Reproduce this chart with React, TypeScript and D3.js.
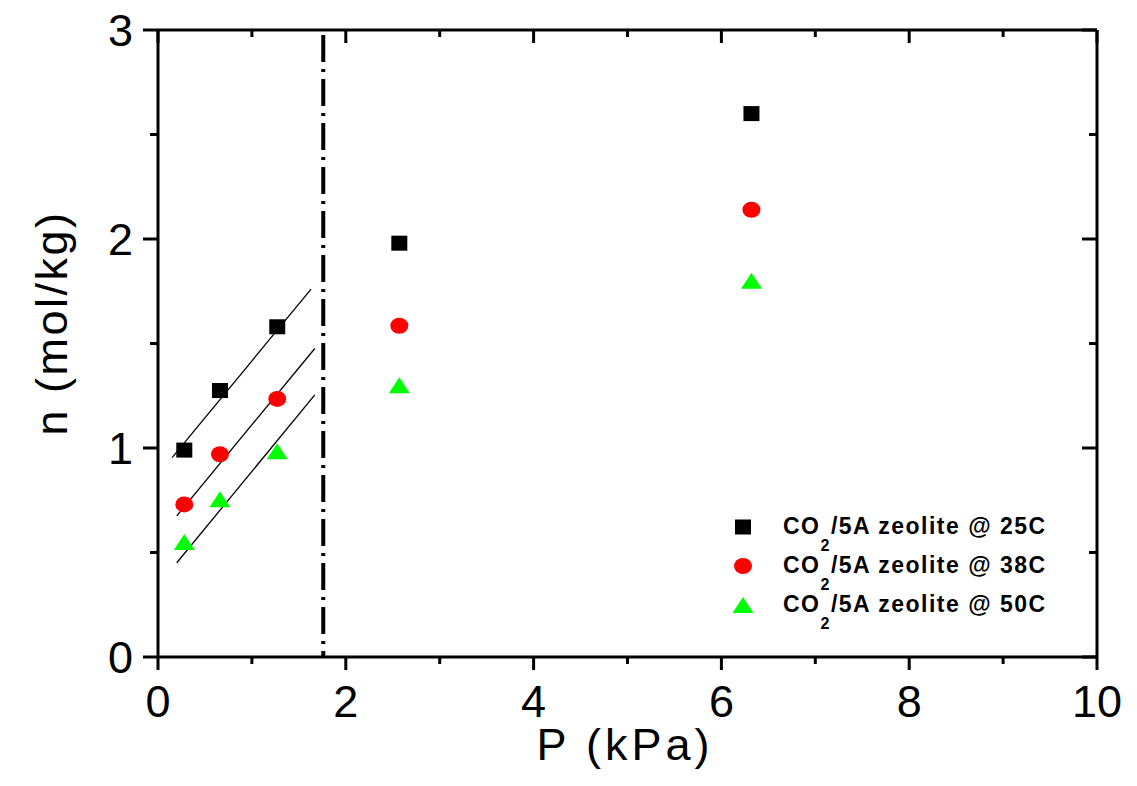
import React from "react";
import * as d3 from "d3";

const pressure = [0.28, 0.66, 1.27, 2.57, 6.32];
const n25 = [0.99, 1.275, 1.58, 1.98, 2.6];
const n38 = [0.73, 0.97, 1.235, 1.585, 2.14];
const n50 = [0.55, 0.755, 0.985, 1.3, 1.8];

const fitX25 = [0.15, 1.63];
const fitY25 = [0.954, 1.76];
const fitX38 = [0.2, 1.67];
const fitY38 = [0.675, 1.476];
const fitX50 = [0.2, 1.67];
const fitY50 = [0.451, 1.254];

const cutoffP = 1.76;

const xMajor = [0, 2, 4, 6, 8, 10];
const xMinor = [1, 3, 5, 7, 9];
const yMajor = [0, 1, 2, 3];
const yMinor = [0.5, 1.5, 2.5];

const legendLabels = ["25C", "38C", "50C"];

const W = 1137;
const H = 786;
const L = 158;
const R = 1097;
const T = 30;
const B = 657;

export default function App() {
  const x = d3.scaleLinear().domain([0, 10]).range([L, R]);
  const y = d3.scaleLinear().domain([0, 3]).range([B, T]);
  const line = d3
    .line<[number, number]>()
    .x((d) => x(d[0]))
    .y((d) => y(d[1]));

  const fits = [
    [fitX25, fitY25],
    [fitX38, fitY38],
    [fitX50, fitY50],
  ];

  const square = (cx: number, cy: number, k: string) => (
    <rect key={k} x={cx - 8} y={cy - 7.5} width={16} height={15} fill="#000" />
  );
  const circle = (cx: number, cy: number, k: string) => (
    <ellipse key={k} cx={cx} cy={cy} rx={9} ry={8} fill="#ff0000" />
  );
  const tri = (cx: number, cy: number, k: string) => (
    <path
      key={k}
      d={`M${cx - 10.5},${cy + 8} L${cx + 10.5},${cy + 8} L${cx},${cy - 8} Z`}
      fill="#00ff00"
    />
  );

  const markers = [square, circle, tri];
  const series = [n25, n38, n50];
  const legendY = [527, 566, 605];

  const sw = 3;
  return (
    <svg width={W} height={H} style={{ display: "block", position: "absolute", left: 0, top: 0 }}>
      <rect width={W} height={H} fill="#fff" />
      {fits.map(([fx, fy], i) => (
        <path
          key={"fit" + i}
          d={line(fx.map((v, j) => [v, fy[j]] as [number, number])) || ""}
          stroke="#000"
          strokeWidth={1.3}
          fill="none"
        />
      ))}
      <line
        x1={x(cutoffP)}
        x2={x(cutoffP)}
        y1={T + 5}
        y2={B}
        stroke="#000"
        strokeWidth={4}
        strokeDasharray="27,7,3,7"
      />
      {series.map((s, si) =>
        s.map((v, i) => markers[si](x(pressure[i]), y(v), `m${si}-${i}`))
      )}
      <g stroke="#000" strokeWidth={sw} fill="none">
        <line x1={L} x2={R} y1={B} y2={B} />
        <line x1={L} x2={R} y1={T} y2={T} />
        <line x1={L} x2={L} y1={T} y2={B} />
        <line x1={R} x2={R} y1={T} y2={B} />
        {xMajor.map((v) => (
          <g key={"xM" + v}>
            <line x1={x(v)} x2={x(v)} y1={B} y2={B + 13} />
            <line x1={x(v)} x2={x(v)} y1={T} y2={T + 13} />
          </g>
        ))}
        {xMinor.map((v) => (
          <g key={"xm" + v}>
            <line x1={x(v)} x2={x(v)} y1={B} y2={B + 7} />
            <line x1={x(v)} x2={x(v)} y1={T} y2={T + 7} />
          </g>
        ))}
        {yMajor.map((v) => (
          <g key={"yM" + v}>
            <line x1={L - 15} x2={L} y1={y(v)} y2={y(v)} />
            <line x1={R - 15} x2={R} y1={y(v)} y2={y(v)} />
          </g>
        ))}
        {yMinor.map((v) => (
          <g key={"ym" + v}>
            <line x1={L - 8} x2={L} y1={y(v)} y2={y(v)} />
            <line x1={R - 8} x2={R} y1={y(v)} y2={y(v)} />
          </g>
        ))}
      </g>
      <g fontFamily="Liberation Sans, Arial, sans-serif" fontSize={45} fill="#000">
        {xMajor.map((v) => (
          <text key={"xl" + v} x={x(v)} y={B + 60} textAnchor="middle">
            {v}
          </text>
        ))}
        {yMajor.map((v) => (
          <text key={"yl" + v} x={133} y={y(v) + 16} textAnchor="end">
            {v}
          </text>
        ))}
      </g>
      <text
        x={625}
        y={760}
        textAnchor="middle"
        fontFamily="Liberation Sans, Arial, sans-serif"
        fontSize={45}
        letterSpacing={4}
      >
        P (kPa)
      </text>
      <text
        transform={`translate(67, 323) rotate(-90)`}
        textAnchor="middle"
        fontFamily="Liberation Sans, Arial, sans-serif"
        fontSize={45}
        letterSpacing={2.5}
      >
        n (mol/kg)
      </text>
      {legendLabels.map((lab, i) => (
        <g key={"leg" + i}>
          {markers[i](743, legendY[i], "lm" + i)}
          <text
            x={783}
            y={legendY[i] + 7}
            fontFamily="Liberation Sans, Arial, sans-serif"
            fontWeight="bold"
            fontSize={23}
            letterSpacing={1.5}
          >
            CO
            <tspan fontSize={16} dy={17}>2</tspan>
            <tspan dy={-17}>/5A zeolite @ {lab}</tspan>
          </text>
        </g>
      ))}
    </svg>
  );
}
